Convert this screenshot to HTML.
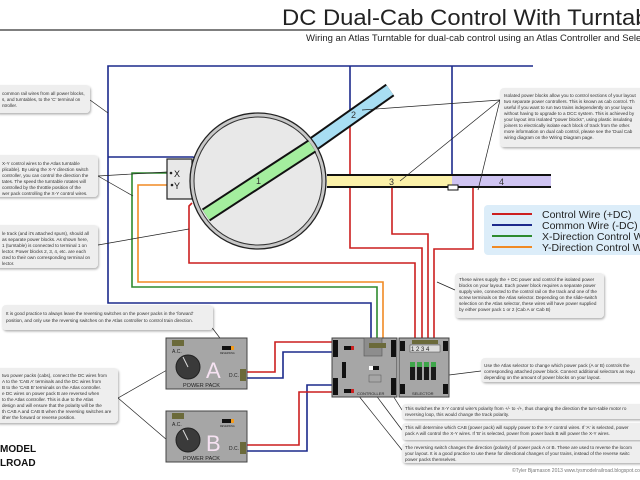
<!DOCTYPE html>
<html><head><meta charset="utf-8"><style>
html,body{margin:0;padding:0;background:#fff;}
svg{display:block;font-family:"Liberation Sans",sans-serif;}
</style></head><body>
<svg width="640" height="480" viewBox="0 0 640 480" xmlns="http://www.w3.org/2000/svg">
<defs>
<filter id="sh" x="-5%" y="-10%" width="115%" height="130%"><feDropShadow dx="1" dy="1.5" stdDeviation="1" flood-color="#000" flood-opacity="0.3"/></filter>
</defs>
<rect width="640" height="480" fill="#fff"/>
<!-- title -->
<text x="282" y="25" font-size="22" fill="#222" textLength="385" lengthAdjust="spacingAndGlyphs">DC Dual-Cab Control With Turntable</text>
<line x1="0" y1="30" x2="640" y2="30" stroke="#555" stroke-width="1.5"/>
<text x="306" y="41" font-size="9.5" fill="#222">Wiring an Atlas Turntable for dual-cab control using an Atlas Controller and Selector</text>

<!-- blue common wires -->
<g fill="none" stroke="#1c2a8c" stroke-width="1.6">
<polyline points="533,66 108,66 108,303 371,303 371,345"/>
<line x1="350" y1="66" x2="350" y2="112"/>
<line x1="452" y1="66" x2="452" y2="175"/>
<polyline points="108,157 193,157 200,161"/>
<polyline points="332,352 283,352 283,378 247,378"/>
<polyline points="332,385 307,385 307,451 247,451"/>
</g>
<!-- red -->
<g fill="none" stroke="#cc1f1f" stroke-width="1.6">
<polyline points="350,125 350,248 422,248 422,342"/>
<polyline points="192,203 189,206 189,263 415,263 415,342"/>
<polyline points="392,187 392,234 428,234 428,342"/>
<polyline points="473,187 473,249 434,249 434,342"/>
<polyline points="332,342 275,342 275,372 247,372"/>
<polyline points="332,392 299,392 299,445 247,445"/>
</g>
<!-- green / orange -->
<polyline points="171,173 132,173 132,287 377,287 377,345" fill="none" stroke="#2e8b2e" stroke-width="1.6"/>
<polyline points="172,185 138,185 138,282 383,282 383,345" fill="none" stroke="#f08a24" stroke-width="1.6"/>

<!-- XY box -->
<rect x="167" y="159" width="25" height="40" fill="#e8e8e8" stroke="#222" stroke-width="1.2"/>
<circle cx="171" cy="173" r="1.3" fill="#222"/><circle cx="172" cy="185" r="1.3" fill="#222"/>
<text x="174" y="177" font-size="9" fill="#111">X</text>
<text x="174" y="189" font-size="9" fill="#111">Y</text>

<!-- track 3/4 -->
<rect x="327" y="175" width="125" height="12" fill="#fbf1a9"/>
<rect x="452" y="175" width="99" height="12" fill="#cfc4f2"/>
<line x1="327" y1="175" x2="551" y2="175" stroke="#111" stroke-width="2"/>
<line x1="327" y1="187" x2="551" y2="187" stroke="#111" stroke-width="2"/>
<rect x="448" y="185" width="10" height="5" fill="#fff" stroke="#111" stroke-width="1"/>
<text x="389" y="185" font-size="9" fill="#333">3</text>
<text x="499" y="185" font-size="9" fill="#333">4</text>
<!-- track 2 -->
<line x1="305" y1="150" x2="390" y2="90" stroke="#111" stroke-width="15"/>
<line x1="305" y1="150" x2="390" y2="90" stroke="#a8def3" stroke-width="11"/>
<!-- turntable -->
<circle cx="258" cy="181" r="68" fill="#c8c8c8" stroke="#222" stroke-width="1.3"/>
<circle cx="258" cy="181" r="64" fill="#e8e8e8" stroke="#333" stroke-width="1"/>
<line x1="206" y1="215" x2="312" y2="146" stroke="#111" stroke-width="15"/>
<line x1="206" y1="215" x2="312" y2="146" stroke="#a4ee9e" stroke-width="11"/>
<text x="256" y="184" font-size="9" fill="#333">1</text>
<text x="351" y="118" font-size="9" fill="#333">2</text>

<!-- legend -->
<rect x="484" y="205" width="170" height="50" rx="4" fill="#dcedf9"/>
<g stroke-width="2"><line x1="492" y1="214" x2="532" y2="214" stroke="#cc1f1f"/><line x1="492" y1="225" x2="532" y2="225" stroke="#1c2a8c"/><line x1="492" y1="236" x2="532" y2="236" stroke="#2e8b2e"/><line x1="492" y1="247" x2="532" y2="247" stroke="#f08a24"/></g>
<g font-size="10.5" fill="#222"><text x="542" y="218">Control Wire (+DC)</text><text x="542" y="229">Common Wire (-DC)</text><text x="542" y="240">X-Direction Control Wire</text><text x="542" y="251">Y-Direction Control Wire</text></g>

<!-- callout pointer lines -->
<g stroke="#222" stroke-width="0.7" fill="none">
<line x1="90" y1="100" x2="108" y2="113"/>
<line x1="98" y1="176" x2="167" y2="172"/><line x1="98" y1="176" x2="133" y2="196"/>
<line x1="98" y1="245" x2="189" y2="229"/>
<line x1="500" y1="100" x2="362" y2="110"/><line x1="500" y1="100" x2="400" y2="181"/><line x1="500" y1="100" x2="478" y2="190"/>
<line x1="455" y1="290" x2="437" y2="282"/>
<line x1="210" y1="325" x2="226" y2="346"/>
<line x1="118" y1="398" x2="167" y2="370"/><line x1="118" y1="398" x2="167" y2="440"/>
<line x1="449" y1="375" x2="481" y2="371"/>
<line x1="402" y1="410" x2="378" y2="372"/>
<line x1="402" y1="430" x2="357" y2="370"/>
<line x1="402" y1="450" x2="358" y2="395"/>
</g>

<!-- callouts -->
<g filter="url(#sh)" fill="#eeeeee">
<rect x="-6" y="85" width="96" height="28" rx="4"/>
<rect x="-6" y="155" width="104" height="42" rx="4"/>
<rect x="-6" y="225" width="104" height="43" rx="4"/>
<rect x="500" y="88" width="150" height="59" rx="4"/>
<rect x="455" y="273" width="149" height="45" rx="4"/>
<rect x="2" y="305" width="211" height="25" rx="4"/>
<rect x="-6" y="368" width="124" height="55" rx="4"/>
<rect x="481" y="358" width="165" height="24" rx="4"/>
<rect x="402" y="404" width="245" height="15" rx="4"/>
<rect x="402" y="423" width="245" height="17" rx="4"/>
<rect x="402" y="443" width="245" height="20" rx="4"/>
</g>
<g font-size="4.6" fill="#333">
<text x="2" y="95">common rail wires from all power blocks,</text><text x="2" y="101">s, and turntables, to the 'C' terminal on</text><text x="2" y="107">ntroller.</text>
<text x="2" y="165">X-Y control wires to the Atlas turntable</text><text x="2" y="171">plicable). By using the X-Y direction switch</text><text x="2" y="177">controller, you can control the direction the</text><text x="2" y="183">tates. The speed the turntable rotates will</text><text x="2" y="189">controlled by the throttle position of the</text><text x="2" y="195">wer pack controlling the X-Y control wires.</text>
<text x="2" y="235">le track (and it's attached spurs), should all</text><text x="2" y="241">as separate power blocks. As shown here,</text><text x="2" y="247">1 (turntable) is connected to terminal 1 on</text><text x="2" y="253">lector. Power blocks 2, 3, 4, etc. are each</text><text x="2" y="259">cted to their own corresponding terminal on</text><text x="2" y="265">lector.</text>
<text x="504" y="97">Isolated power blocks allow you to control sections of your layout</text><text x="504" y="103">two separate power controllers. This is known as cab control. Th</text><text x="504" y="109">useful if you want to run two trains independently on your layou</text><text x="504" y="115">without having to upgrade to a DCC system. This is achieved by</text><text x="504" y="121">your layout into isolated "power blocks", using plastic insulating</text><text x="504" y="127">joiners to electrically isolate each block of track from the other.</text><text x="504" y="133">more information on dual cab control, please see the 'Dual Cab</text><text x="504" y="139">wiring diagram on the Wiring Diagram page.</text>
<text x="459" y="281">These wires supply the + DC power and control the isolated power</text><text x="459" y="287">blocks on your layout. Each power block requires a separate power</text><text x="459" y="293">supply wire, connected to the control rail on the track and one of the</text><text x="459" y="299">screw terminals on the Atlas selector. Depending on the slide-switch</text><text x="459" y="305">selection on the Atlas selector, these wires will have power supplied</text><text x="459" y="311">by either power pack 1 or 2 (Cab A or Cab B)</text>
<text x="6" y="315">It is good practice to always leave the reversing switches on the power packs in the 'forward'</text><text x="6" y="322">position, and only use the reversing switches on the Atlas controller to control train direction.</text>
<text x="2" y="377">two power packs (cabs), connect the DC wires from</text><text x="2" y="383">A to the 'CAB A' terminals and the DC wires from</text><text x="2" y="389">B to the 'CAB B' terminals on the Atlas controller.</text><text x="2" y="395">e DC wires on power pack B are reversed when</text><text x="2" y="401">to the Atlas controller. This is due to the Atlas</text><text x="2" y="407">design and will ensure that the polarity will be the</text><text x="2" y="413">th CAB A and CAB B when the reversing switches are</text><text x="2" y="419">ither the forward or reverse position.</text>
<text x="484" y="367">Use the Atlas selector to change which power pack (A or B) controls the</text><text x="484" y="373">corresponding attached power block. Connect additional selectors as requ</text><text x="484" y="379">depending on the amount of power blocks on your layout.</text>
<text x="405" y="410">This switches the X-Y control wire's polarity from +/- to -/+, thus changing the direction the turn-table motor ro</text><text x="405" y="416">reversing loop, this would change the track polarity.</text>
<text x="405" y="429">This will determine which CAB (power pack) will supply power to the X-Y control wires. If 'A' is selected, power</text><text x="405" y="435">pack A will control the X-Y wires. If 'B' is selected, power from power back B will power the X-Y wires.</text>
<text x="405" y="449">The reversing switch changes the direction (polarity) of power pack A or B. These are used to reverse the locom</text><text x="405" y="455">your layout. It is a good practice to use these for directional changes of your trains, instead of the reverse switc</text><text x="405" y="461">power packs themselves.</text>
</g>
<text x="512" y="472" font-size="5" fill="#777">©Tyler Bjarnason 2013 www.tysmodelrailroad.blogspot.com</text>
<text x="0" y="452" font-size="10" font-weight="bold" fill="#111">MODEL</text>
<text x="0" y="466" font-size="10" font-weight="bold" fill="#111">LROAD</text>

<!-- power packs -->
<g id="ppA">
<rect x="166" y="338" width="81" height="51" fill="#a6a6a6" stroke="#444" stroke-width="1"/>
<rect x="172" y="340" width="12" height="6" fill="#6b6a3a"/>
<text x="172" y="353" font-size="5" fill="#222">A.C.</text>
<circle cx="188" cy="367" r="12" fill="#3a3a3a" stroke="#222"/>
<line x1="188" y1="367" x2="183" y2="357" stroke="#ddd" stroke-width="1"/>
<rect x="222" y="346" width="9" height="4" fill="#111"/><rect x="231" y="346" width="3" height="4" fill="#f39c1e"/>
<text x="220" y="354" font-size="2.5" fill="#222">REVERSING</text>
<rect x="240" y="369" width="6" height="12" fill="#6b6a3a"/>
<text x="229" y="377" font-size="5" fill="#222">D.C.</text>
<text x="183" y="387" font-size="5.5" fill="#222">POWER PACK</text>
</g>
<text x="206" y="378" font-size="22" fill="#f6e2f2">A</text>
<use href="#ppA" y="73"/>
<text x="206" y="451" font-size="22" fill="#f6e2f2">B</text>

<!-- controller -->
<rect x="332" y="338" width="65" height="59" fill="#a6a6a6" stroke="#444" stroke-width="1"/>
<rect x="364" y="338" width="18" height="18" fill="#8d8d8d" stroke="#555" stroke-width="0.6"/>
<rect x="369" y="343" width="17" height="5" fill="#6b6a3a"/>
<g fill="#111"><rect x="333" y="340" width="5" height="17"/><rect x="333" y="378" width="5" height="17"/><rect x="391" y="340" width="5" height="17"/><rect x="391" y="378" width="5" height="17"/></g>
<rect x="344" y="346" width="10" height="4" fill="#111"/><rect x="351" y="346" width="3" height="4" fill="#c22"/>
<rect x="344" y="389" width="10" height="4" fill="#111"/><rect x="351" y="389" width="3" height="4" fill="#c22"/>
<rect x="342" y="362" width="4" height="16" fill="#111"/>
<rect x="369" y="366" width="4" height="4" fill="#fff"/><rect x="373" y="366" width="6" height="4" fill="#111"/>
<rect x="369" y="375" width="12" height="7" fill="none" stroke="#555" stroke-width="0.5"/>
<text x="357" y="395" font-size="4" fill="#222">CONTROLLER</text>
<!-- selector -->
<rect x="399" y="338" width="50" height="59" fill="#a6a6a6" stroke="#444" stroke-width="1"/>
<g fill="#111"><rect x="400" y="341" width="5" height="10"/><rect x="443" y="341" width="5" height="10"/><rect x="400" y="384" width="5" height="10"/><rect x="443" y="384" width="5" height="10"/></g>
<g fill="#6b6a3a"><rect x="412" y="340" width="26" height="4"/></g>
<g font-size="6" fill="#222"><rect x="410" y="345" width="30" height="7" fill="#ddd" stroke="#444" stroke-width="0.5"/><text x="411" y="351">1 2 3 4</text></g>
<g fill="#1a1a1a"><rect x="410" y="362" width="5" height="18"/><rect x="417" y="362" width="5" height="18"/><rect x="424" y="362" width="5" height="18"/><rect x="431" y="362" width="5" height="18"/></g>
<g fill="#3ea64a"><rect x="410" y="362" width="5" height="5"/><rect x="417" y="362" width="5" height="5"/><rect x="424" y="362" width="5" height="5"/><rect x="431" y="362" width="5" height="5"/></g>
<text x="412" y="395" font-size="4" fill="#222">SELECTOR</text>
</svg>
</body></html>
